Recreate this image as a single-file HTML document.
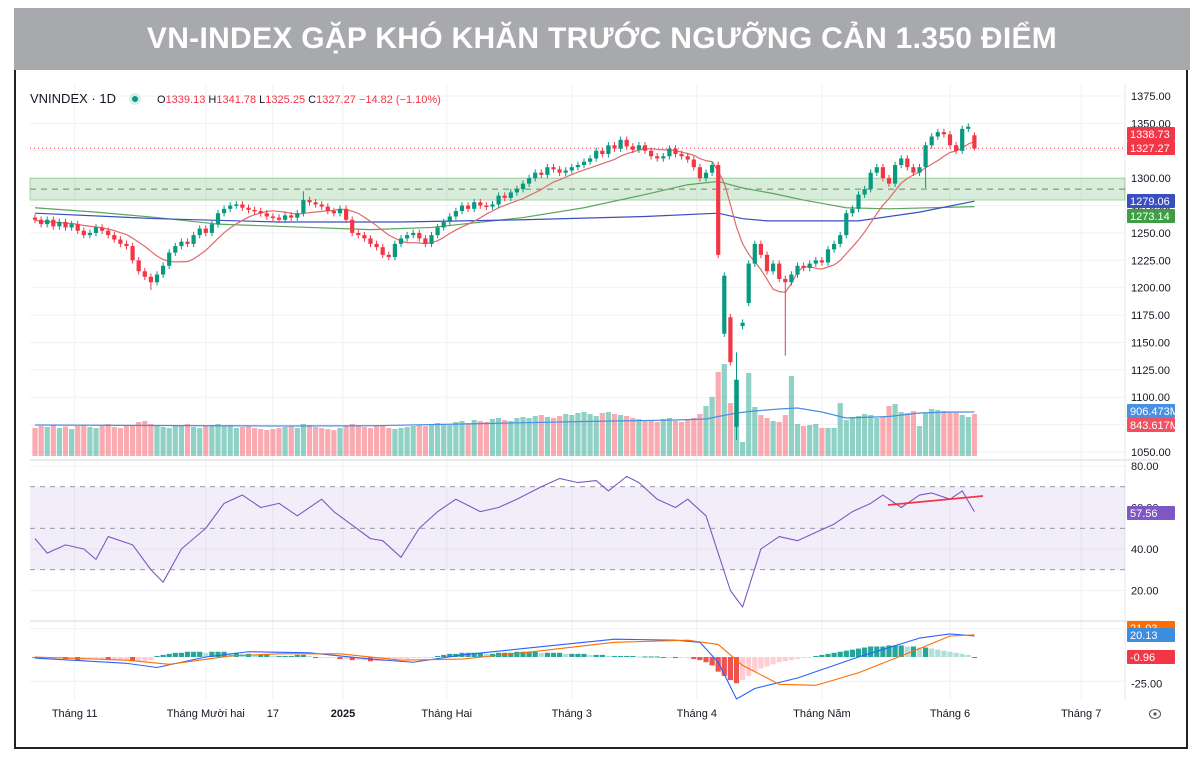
<!DOCTYPE html>
<html><head><meta charset="utf-8">
<style>
html,body{margin:0;padding:0;background:#fff;width:1200px;height:761px;overflow:hidden;font-family:"Liberation Sans",sans-serif}
#frame{position:absolute;left:14px;top:70px;width:1174px;height:679px;border:2px solid #222;border-top:none;box-sizing:border-box}
#banner{position:absolute;left:14px;top:8px;width:1176px;height:62px;background:#a7a9ac;color:#fff;font:bold 30px "Liberation Sans","DejaVu Sans",sans-serif;text-align:center;line-height:62px;letter-spacing:0.3px}
svg{position:absolute;left:0;top:0}
</style></head><body>
<div id="banner">VN-INDEX GẶP KHÓ KHĂN TRƯỚC NGƯỠNG CẢN 1.350 ĐIỂM</div>
<div id="frame"></div>
<svg id="chart" width="1200" height="761"></svg>
<script>
// ---- data ----
const closes=[1262,1258,1262,1256,1260,1255,1258,1252,1248,1250,1255,1252,1248,1244,1240,1238,1225,1215,1210,1205,
1212,1220,1232,1238,1242,1240,1248,1254,1250,1258,1268,1272,1275,1276,1273,1271,1270,1268,1265,1264,
1262,1266,1264,1268,1280,1278,1276,1274,1270,1268,1272,1262,1250,1248,1245,1240,1237,1230,1228,1240,
1245,1248,1250,1245,1240,1248,1255,1260,1265,1270,1275,1272,1278,1275,1274,1276,1284,1282,1287,1290,
1295,1300,1305,1303,1310,1308,1305,1307,1310,1312,1315,1318,1325,1322,1330,1327,1335,1329,1326,1330,
1325,1320,1318,1320,1327,1322,1320,1317,1310,1300,1305,1312,1230,1211,1132,1116,1168,1222,1240,1230,
1215,1222,1208,1205,1212,1220,1218,1222,1225,1223,1235,1240,1248,1268,1272,1285,1290,1305,1310,1300,
1295,1312,1318,1310,1305,1310,1330,1338,1342,1340,1330,1325,1345,1347,1327];
const openOverrides={113:1158,114:1173,115:1073,116:1165,117:1186,154:1339.13};
const highOverrides={44:1288,115:1141,154:1341.78};
const lowOverrides={19:1198,115:1061,123:1138,146:1291,154:1325.25};
const volumes=[560,600,580,620,560,590,540,600,620,580,560,600,640,580,560,600,620,680,700,640,
600,580,560,620,600,640,580,560,600,620,640,600,620,560,580,600,560,540,520,540,
560,580,600,560,640,620,580,560,540,520,560,600,640,620,580,560,600,620,560,540,
560,580,600,620,600,640,660,640,620,680,700,660,720,700,680,740,760,720,700,760,
780,760,800,820,780,760,800,840,820,860,880,840,800,860,880,840,820,800,760,740,
720,700,680,740,760,700,680,720,760,840,1000,1180,1680,1840,1060,1520,280,1660,980,820,
760,700,680,820,1600,640,600,620,640,560,560,560,1060,720,780,800,840,820,760,780,
1000,1040,880,860,900,600,860,940,920,900,880,880,820,780,840];
const volMaIdx=[0,20,40,55,70,90,105,110,112,115,118,122,125,129,133,140,145,150,154];
const volMaVals=[620,610,600,605,640,690,720,740,790,860,900,940,960,880,760,790,860,880,880];
const greenMaIdx=[0,10,20,30,45,55,65,80,90,100,107,112,116,121,126,130,133,140,154];
const greenMaVals=[1273,1269,1264,1258,1255,1253,1255,1264,1273,1285,1294,1297,1291,1286,1280,1276,1273,1272,1274];
const blueMaIdx=[0,20,40,60,80,100,112,116,120,135,145,154];
const blueMaVals=[1268,1263,1260,1260,1262,1265,1268,1263,1261,1261,1269,1279];
const rsiIdx=[0,2,5,8,10,12,16,19,21,24,28,31,34,37,40,43,47,49,55,57,60,63,66,69,73,76,79,83,86,89,92,94,97,99,102,105,107,110,114,116,119,122,125,128,131,134,137,139,142,145,147,150,152,154];
const rsiVals=[45,38,42,40,35,46,42,30,24,40,50,62,66,60,62,56,64,58,45,44,36,50,58,64,58,60,64,70,74,72,73,68,75,72,64,60,64,56,20,12,40,46,44,48,52,58,62,66,60,66,67,64,68,58];
const macdIdx=[0,15,20,28,35,45,55,62,70,80,95,105,109,112,115,118,125,135,145,150,154];
const macdVals=[-1,-6,-10,0,5,4,-2,-5,2,8,17,16,14,-5,-40,-30,-20,0,18,22,20];
const sigIdx=[0,15,22,32,40,50,60,70,80,95,107,112,116,122,128,135,145,150,154];
const sigVals=[0,-3,-7,1,3,3,-3,-2,4,14,16,12,-8,-26,-27,-15,8,20,21];
const hist=[-1,-2,-2,-2,-1,-2,-2,-3,-3,-2,-2,-2,-3,-3,-3,-3,-4,-4,-4,-3,
1,2,3,4,4,5,5,5,4,5,5,5,4,4,3,3,2,2,2,1,1,1,1,2,2,1,
-1,-1,-1,-1,-2,-2,-3,-3,-3,-4,-4,-4,-3,-3,-2,-2,-1,-1,-1,-1,
1,2,3,3,4,4,4,4,3,3,4,4,4,5,5,5,5,4,4,4,4,3,3,3,3,2,2,2,1,1,1,1,1,0.5,0.5,0.5,0.5,-0.5,-0.5,-1,-1,-1,-2,
-3,-5,-8,-14,-18,-22,-25,-22,-18,-14,
-11,-9,-7,-5,-4,-3,-2,-1,-0.5,1,
2,3,4,5,6,7,8,9,10,10,10,11,11,11,10,10,9,9,
8,7,6,5,4,3,2,-1];
const priceTicks=[1375,1350,1325,1300,1275,1250,1225,1200,1175,1150,1125,1100,1075,1050];
const rsiTicks=[80,60,40,20];
const monthLabels=["Tháng 11","Tháng Mười hai","17","2025","Tháng Hai","Tháng 3","Tháng 4","Tháng Năm","Tháng 6","Tháng 7"];
const monthIdx=[6.5,28,39,50.5,67.5,88,108.5,129,150,171.5];

// ---- scales ----
const X0=35,DX=6.1,W=4.2,AX=1125;
const xS=i=>X0+i*DX;
const yP=p=>96+(1375-p)*1.0954;
const yV=v=>456-v*0.05;
const yR=r=>466+(80-r)*2.075;
const yM=m=>657-m*1.05;
const svg=document.getElementById('chart');
const NS='http://www.w3.org/2000/svg';
function mk(tag,attrs,parent){const e=document.createElementNS(NS,tag);for(const k in attrs)e.setAttribute(k,attrs[k]);(parent||svg).appendChild(e);return e;}
function txt(x,y,s,attrs,parent){const t=mk('text',Object.assign({x:x,y:y,'font-family':'Liberation Sans, sans-serif'},attrs),parent);t.textContent=s;return t;}

// grid
const grid=mk('g',{});


priceTicks.forEach(p=>mk('line',{x1:30,x2:AX,y1:yP(p),y2:yP(p),stroke:'#f0f1f4'},grid));
[80,40,20].forEach(r=>mk('line',{x1:30,x2:AX,y1:yR(r),y2:yR(r),stroke:'#f0f1f4'},grid));
[25,-25].forEach(m=>mk('line',{x1:30,x2:AX,y1:yM(m)-2,y2:yM(m)-2,stroke:'#f0f1f4'},grid));
monthIdx.forEach(i=>mk('line',{x1:xS(i),x2:xS(i),y1:84,y2:700,stroke:'#f0f1f4'},grid));
mk('line',{x1:30,x2:1160,y1:460,y2:460,stroke:'#d6d8de'});
mk('line',{x1:30,x2:1160,y1:621,y2:621,stroke:'#d6d8de'});
mk('line',{x1:AX,x2:AX,y1:84,y2:700,stroke:'#e6e8ec'});

// resistance zone
const zone=mk('rect',{x:30,y:yP(1300),width:AX-30,height:yP(1280)-yP(1300),fill:'rgba(76,175,80,0.22)',stroke:'rgba(76,175,80,0.45)'});


mk('line',{x1:30,x2:AX,y1:yP(1290),y2:yP(1290),stroke:'#6b8a6e','stroke-dasharray':'6,5'});
mk('line',{x1:30,x2:AX,y1:yP(1327.27),y2:yP(1327.27),stroke:'#f23645','stroke-dasharray':'1,3'});

// volume bars
const vg=mk('g',{});


const opens=closes.map((c,i)=>openOverrides[i]!==undefined?openOverrides[i]:(i?closes[i-1]:c+2));
volumes.forEach((v,i)=>{
 const up=closes[i]>=opens[i];
 const r=mk('rect',{x:xS(i)-2.6,y:yV(v),width:5.2,height:456-yV(v),fill:up?'rgba(8,153,129,0.45)':'rgba(242,54,69,0.42)'},vg);
 
 
});
function poly(idx,vals,ys,color,w,name){
 const pts=idx.map((i,k)=>xS(i)+','+ys(vals[k])).join(' ');
 const p=mk('polyline',{points:pts,fill:'none',stroke:color,'stroke-width':w,'stroke-linejoin':'round'});
 
 
}
poly(volMaIdx,volMaVals,yV,'#4a90e2',1.2,'volume-ma-line');

// MAs
poly(greenMaIdx,greenMaVals,yP,'#5aa55e',1.2,'ma-green-line');
poly(blueMaIdx,blueMaVals,yP,'#3a4fbf',1.2,'ma-blue-line');
const sma=closes.map((c,i)=>{const s=Math.max(0,i-9);const a=closes.slice(s,i+1);return a.reduce((x,y)=>x+y,0)/a.length;});
poly(sma.map((_,i)=>i),sma,yP,'#e06a6a',1.2,'ma-red-line');

// candles
const cg=mk('g',{});


closes.forEach((c,i)=>{
 const o=opens[i],up=c>=o,col=up?'#089981':'#f23645';
 const hi=highOverrides[i]!==undefined?highOverrides[i]:Math.max(o,c)+3;
 const lo=lowOverrides[i]!==undefined?lowOverrides[i]:Math.min(o,c)-3;
 const x=xS(i);
 const wk=mk('line',{x1:x,x2:x,y1:yP(hi),y2:yP(lo),stroke:col,'stroke-width':1},cg);
 
 
 const top=yP(Math.max(o,c)),bot=yP(Math.min(o,c));
 const b=mk('rect',{x:x-W/2,y:top,width:W,height:Math.max(1.5,bot-top),fill:col},cg);
 
 
});

// RSI pane
mk('rect',{x:30,y:yR(70),width:AX-30,height:yR(30)-yR(70),fill:'rgba(126,87,194,0.1)'});
[70,50,30].forEach(r=>mk('line',{x1:30,x2:AX,y1:yR(r),y2:yR(r),stroke:'#787b86','stroke-dasharray':'5,5','stroke-width':0.8}));
poly(rsiIdx,rsiVals,yR,'#7e57c2',1.1,'rsi-line');
const tl=mk('line',{x1:888,y1:505,x2:983,y2:496,stroke:'#f23645','stroke-width':1.8});



// MACD pane
const hg=mk('g',{});


hist.forEach((h,i)=>{
 const prev=i?hist[i-1]:0;let col;
 if(h>=0)col=h>=prev?'#26a69a':'#b2dfdb';else col=h<prev?'#ef5350':'#ffcdd2';
 const y1=yM(Math.max(h,0)),y2=yM(Math.min(h,0));
 const r=mk('rect',{x:xS(i)-2.6,y:y1,width:5.2,height:Math.max(1,y2-y1),fill:col},hg);
 
 
});
poly(macdIdx,macdVals,yM,'#2962ff',1.1,'macd-line');
poly(sigIdx,sigVals,yM,'#ff6d00',1.1,'signal-line');

// axis labels
const ax=mk('g',{});


priceTicks.forEach(p=>{if(p===1075)return;txt(1131,yP(p)+4,p.toFixed(2),{'font-size':'11',fill:'#131722'},ax);});
rsiTicks.forEach(r=>txt(1131,yR(r)+4,r.toFixed(2),{'font-size':'11',fill:'#131722'},ax));
txt(1131,yM(-25)+4,'-25.00',{'font-size':'11',fill:'#131722'},ax);
function tag(y,s,bg,name){const g=mk('g',{});
 mk('rect',{x:1127,y:y-7,width:48,height:14,fill:bg,rx:1},g);txt(1130,y+4,s,{'font-size':'11',fill:'#fff'},g);}
tag(134,'1338.73','#f23645','ma-red-value-tag');
tag(148,'1327.27','#f23645','last-price-tag');
tag(201,'1279.06','#3a4fbf','ma-blue-value-tag');
tag(216,'1273.14','#3f9e45','ma-green-value-tag');
tag(411,'906.473M','#4a90e2','volume-ma-tag');
tag(425,'843.617M','#f0505f','volume-tag');
tag(513,'57.56','#7e57c2','rsi-value-tag');
tag(628,'21.03','#ff6d00','signal-value-tag');
tag(635,'20.13','#3d8ee0','macd-value-tag');
tag(657,'-0.96','#f23645','hist-value-tag');
monthLabels.forEach((m,k)=>{const t=txt(xS(monthIdx[k]),717,m,{'font-size':'11',fill:'#131722','text-anchor':'middle','font-weight':m==='2025'?'bold':'normal'});
 
 });
const eye=mk('g',{});


mk('ellipse',{cx:1155,cy:714,rx:5.5,ry:4.5,fill:'none',stroke:'#555'},eye);
mk('circle',{cx:1155,cy:714,r:1.6,fill:'#555'},eye);

// legend
const lg=mk('g',{});


txt(30,103,'VNINDEX · 1D',{'font-size':'13',fill:'#131722'},lg);
mk('circle',{cx:135,cy:99,r:6,fill:'#d7efe9'},lg);mk('circle',{cx:135,cy:99,r:3,fill:'#089981'},lg);
const leg=txt(157,103,'',{'font-size':'11'},lg);
[['O','#131722'],['1339.13 ','#f23645'],['H','#131722'],['1341.78 ','#f23645'],['L','#131722'],['1325.25 ','#f23645'],['C','#131722'],['1327.27 −14.82 (−1.10%)','#f23645']].forEach(([s,c])=>{const ts=document.createElementNS(NS,'tspan');ts.setAttribute('fill',c);ts.textContent=s;leg.appendChild(ts);});
</script>
</body></html>
